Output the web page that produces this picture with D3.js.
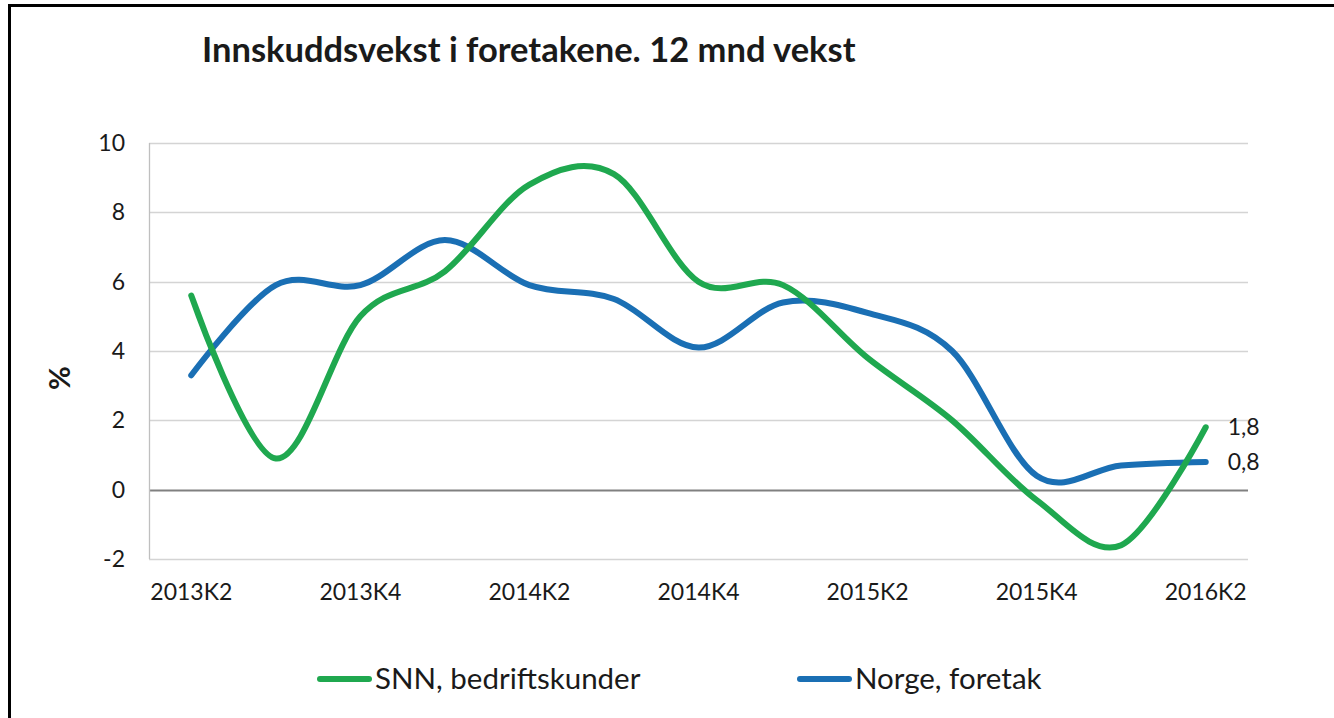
<!DOCTYPE html>
<html>
<head>
<meta charset="utf-8">
<script src="https://cdn.jsdelivr.net/npm/d3@7"></script>
<style>
  body { margin: 0; background: #fff; }
  svg { display: block; }
  text { font-family: Lato, "Open Sans", sans-serif; fill: #1a1a1a; }
</style>
</head>
<body>
<div id="chart"></div>
<script>
// data
let quarters = ["2013K2", "2013K3", "2013K4", "2014K1", "2014K2", "2014K3", "2014K4",
                "2015K1", "2015K2", "2015K3", "2015K4", "2016K1", "2016K2"];
let snn = [5.6, 0.9, 5.0, 6.3, 8.8, 9.1, 6.0, 5.9, 3.8, 2.0, -0.3, -1.6, 1.8];
let norge = [3.3, 5.9, 5.9, 7.2, 5.9, 5.5, 4.1, 5.4, 5.1, 4.0, 0.4, 0.7, 0.8];
let yTicks = [-2, 0, 2, 4, 6, 8, 10];
let tickLabels = ["2013K2", "2013K4", "2014K2", "2014K4", "2015K2", "2015K4", "2016K2"];

let width = 1334;
let height = 718;

let svg = d3.select('#chart')
    .append('svg')
    .attr('width', width)
    .attr('height', height);

// frame
svg.append('rect')
    .attr('x', 9.5)
    .attr('y', 5.5)
    .attr('width', 1340)
    .attr('height', 730)
    .attr('fill', 'none')
    .attr('stroke', '#000')
    .attr('stroke-width', 3);

svg.append('text')
    .attr('x', 202)
    .attr('y', 62)
    .style('font-size', '34.5px')
    .style('font-weight', 'bold')
    .text('Innskuddsvekst i foretakene. 12 mnd vekst');

let plotL = 149, plotR = 1248, plotT = 143, plotB = 559;

let x = d3.scaleBand()
    .domain(quarters)
    .range([plotL, plotR]);

let y = d3.scaleLinear()
    .domain([-2, 10])
    .range([plotB, plotT]);

let cx = function (q) { return x(q) + x.bandwidth() / 2; };

// gridlines
svg.append('g')
    .selectAll('line')
    .data(yTicks)
    .enter()
    .append('line')
    .attr('x1', plotL)
    .attr('x2', plotR)
    .attr('y1', d => Math.round(y(d)) + 0.5)
    .attr('y2', d => Math.round(y(d)) + 0.5)
    .attr('stroke', d => d === 0 ? '#808080' : '#d4d4d4')
    .attr('stroke-width', d => d === 0 ? 2 : 1.3);

// left axis line
svg.append('line')
    .attr('x1', plotL + 0.5)
    .attr('x2', plotL + 0.5)
    .attr('y1', plotT)
    .attr('y2', plotB)
    .attr('stroke', '#bfbfbf')
    .attr('stroke-width', 1.3);

let yAxis = d3.axisLeft(y)
    .tickValues(yTicks)
    .tickSize(0)
    .tickPadding(0)
    .tickFormat(d => String(d));
let gy = svg.append('g')
    .attr('transform', 'translate(' + (plotL - 24) + ',0)')
    .call(yAxis);
gy.select('.domain').remove();
gy.selectAll('text')
    .style('font-size', '23px')
    .style('font-family', 'Lato, sans-serif')
    .attr('fill', '#1a1a1a');

let xAxis = d3.axisBottom(x)
    .tickValues(tickLabels)
    .tickSize(0)
    .tickPadding(0);
let gx = svg.append('g')
    .attr('transform', 'translate(0,584)')
    .call(xAxis);
gx.select('.domain').remove();
gx.selectAll('text')
    .style('font-size', '23px')
    .style('font-family', 'Lato, sans-serif')
    .attr('fill', '#1a1a1a');

svg.append('text')
    .attr('transform', 'translate(70,378) rotate(-90)')
    .attr('text-anchor', 'middle')
    .style('font-size', '29px')
    .style('font-weight', 'bold')
    .text('%');

let line = d3.line()
    .x((d, i) => cx(quarters[i]))
    .y(d => y(d))
    .curve(d3.curveCardinal.tension(0));

let series = [
    { name: 'SNN, bedriftskunder', values: snn, color: '#1fa84f' },
    { name: 'Norge, foretak', values: norge, color: '#1a6fb4' }
];

series.slice().reverse().forEach(function (s) {
    svg.append('path')
        .attr('d', line(s.values))
        .attr('fill', 'none')
        .attr('stroke', s.color)
        .attr('stroke-width', 6)
        .attr('stroke-linecap', 'round');
});

// end labels
let lastQ = quarters[quarters.length - 1];
series.forEach(function (s) {
    let v = s.values[s.values.length - 1];
    svg.append('text')
        .attr('x', cx(lastQ) + 22)
        .attr('y', y(v))
        .attr('dy', '0.35em')
        .style('font-size', '23px')
        .text(d3.format('.1f')(v).replace('.', ','));
});

// legend
let legendX = [317, 797];
series.forEach(function (s, i) {
    svg.append('line')
        .attr('x1', legendX[i] + 3)
        .attr('x2', legendX[i] + 52)
        .attr('y1', 679)
        .attr('y2', 679)
        .attr('stroke', s.color)
        .attr('stroke-width', 6)
        .attr('stroke-linecap', 'round');
    svg.append('text')
        .attr('x', legendX[i] + 58)
        .attr('y', 689)
        .style('font-size', '29.5px')
        .text(s.name);
});
</script>
</body>
</html>
